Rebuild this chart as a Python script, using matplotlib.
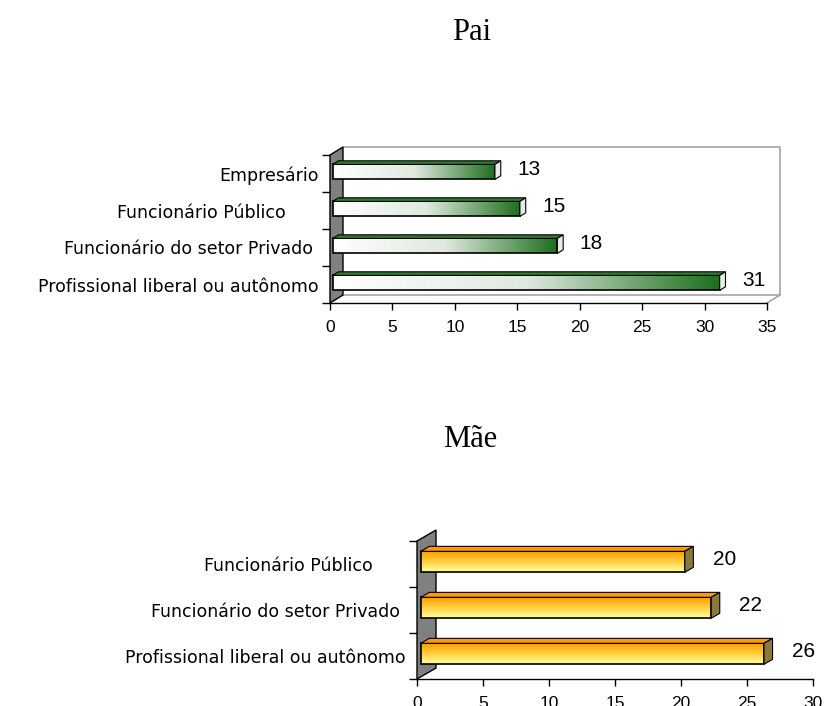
import numpy as np
import matplotlib
matplotlib.use("Agg")
from matplotlib import pyplot as plt
from matplotlib import patches
from matplotlib.colors import LinearSegmentedColormap

plt.rcParams["font.family"] = ["Liberation Sans", "DejaVu Sans"]

# data (bottom category first)
pai_labels = ["Profissional liberal ou autônomo", "Funcionário do setor Privado ",
              "Funcionário Público      ", "Empresário"]
pai_values = [31, 18, 15, 13]
mae_labels = ["Profissional liberal ou autônomo", "Funcionário do setor Privado ",
              "Funcionário Público      "]
mae_values = [26, 22, 20]

green_cmap = LinearSegmentedColormap.from_list("g", ["#ffffff", "#dfe9df", "#1c6e1c"])
orange_cmap = LinearSegmentedColormap.from_list("o", ["#ff9a00", "#ffd040", "#ffff9c"])


def bar3d(ax, i, v, h, dx, dy, horiz, cmap, top_col, cap_col):
    f0, f1 = 0.2, 0.65
    x0 = f0 * dx
    y0 = i + 0.5 - h / 2 + f0 * dy
    x1 = v + f0 * dx
    ddx, ddy = (f1 - f0) * dx, (f1 - f0) * dy
    # front face gradient
    if horiz:
        grad = np.linspace(0, 1, 256)[None, :]
    else:
        grad = np.repeat(np.linspace(1, 0, 64)[:, None], 4, axis=1)
    ax.imshow(grad, cmap=cmap, extent=(x0, x1, y0, y0 + h), origin="lower",
              aspect="auto", zorder=3, interpolation="bilinear")
    ax.add_patch(patches.Rectangle((x0, y0), x1 - x0, h, fill=False,
                                   edgecolor="black", lw=1.2, zorder=4))
    top = [(x0, y0 + h), (x1, y0 + h), (x1 + ddx, y0 + h + ddy), (x0 + ddx, y0 + h + ddy)]
    ax.add_patch(patches.Polygon(top, closed=True, facecolor=top_col,
                                 edgecolor="black", lw=0.8, zorder=4, clip_on=False))
    cap = [(x1, y0), (x1 + ddx, y0 + ddy), (x1 + ddx, y0 + h + ddy), (x1, y0 + h)]
    ax.add_patch(patches.Polygon(cap, closed=True, facecolor=cap_col,
                                 edgecolor="black", lw=0.8, zorder=4, clip_on=False))


def panel(rect, labels, values, xmax, dx, dy, h, horiz, cmap, top_col, cap_col,
          title, title_x, title_y, box, lab_off):
    ax = fig.add_axes(rect)
    n = len(values)
    for s in ax.spines.values():
        s.set_visible(False)
    # left wall
    ax.add_patch(patches.Polygon([(0, 0), (dx, dy), (dx, n + dy), (0, n)], closed=True,
                                 facecolor="#808080", edgecolor="black", lw=1,
                                 zorder=1, clip_on=False))
    if box:
        gc = "#a6a6a6"
        ax.plot([dx, xmax + dx, xmax + dx, dx], [n + dy, n + dy, dy, dy], color=gc,
                lw=1.2, clip_on=False, zorder=0)
        ax.plot([xmax, xmax + dx], [0, dy], color=gc, lw=1.2, clip_on=False, zorder=0)
    ax.plot([0, xmax], [0, 0], color="black", lw=1, clip_on=False, zorder=2)
    for i, v in enumerate(values):
        bar3d(ax, i, v, h, dx, dy, horiz, cmap, top_col, cap_col)
        ax.text(v + lab_off, i + 0.5 + 0.1, str(v), fontsize=15, ha="left",
                va="center", zorder=5)
    ax.set_yticks(np.arange(n + 1))
    ax.set_yticklabels([])
    ax.set_yticks(np.arange(n) + 0.5, minor=True)
    ax.set_yticklabels(labels, minor=True, fontsize=12.5, family="DejaVu Sans")
    ax.tick_params(axis="y", which="major", length=6, width=1, direction="out")
    ax.tick_params(axis="y", which="minor", length=0, pad=8)
    ax.set_xticks(np.arange(0, xmax + 1, 5))
    ax.tick_params(axis="x", length=5, width=1, pad=7, labelsize=12.5)
    ax.set_xlim(0, xmax)
    ax.set_ylim(0, n)
    fig.text(title_x, title_y, title, fontsize=22, family="Liberation Serif",
             ha="center", va="baseline")
    return ax


fig = plt.figure(figsize=(8.24, 7.06), dpi=100)

panel([330 / 824, 1 - 303 / 706, 437 / 824, 148 / 706], pai_labels, pai_values, 35,
      1.04, 0.216, 0.405, True, green_cmap, "#2e7a2e", "#e8ece8",
      "Pai", 472 / 824, 1 - 40 / 706, True, 2.0)

panel([417 / 824, 1 - 679 / 706, 396 / 824, 138 / 706], mae_labels, mae_values, 30,
      1.44, 0.239, 0.456, False, orange_cmap, "#ff9a00", "#8a7a3a",
      "Mãe", 470 / 824, 1 - 447 / 706, False, 2.4)

fig.savefig("out.png", dpi=100)
